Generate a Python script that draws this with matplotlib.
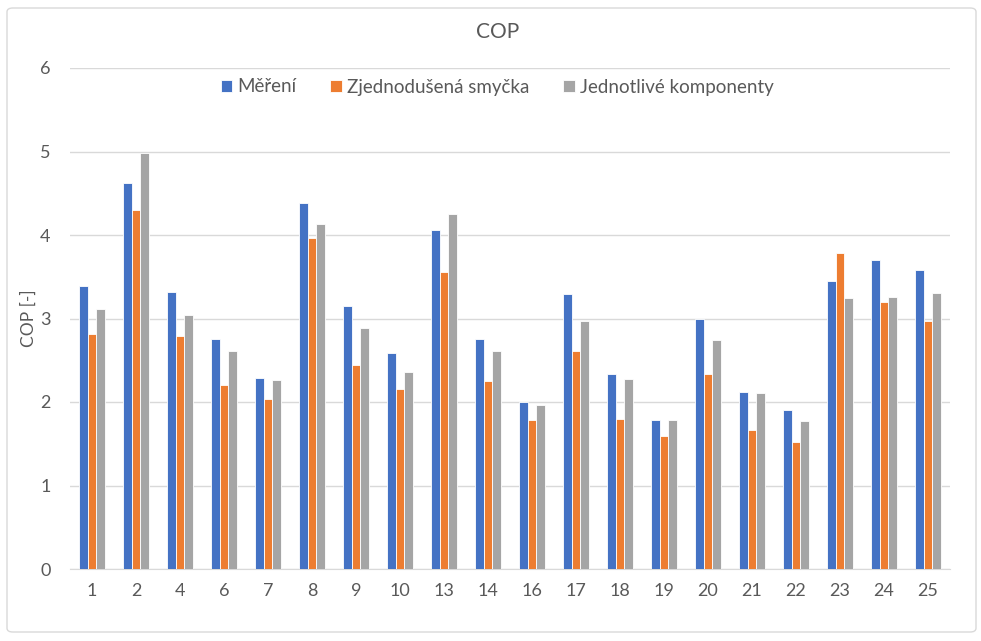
import numpy as np
import matplotlib
matplotlib.use('Agg')
import matplotlib.pyplot as plt
from matplotlib.patches import FancyBboxPatch

plt.rcParams['font.family'] = ['Lato', 'DejaVu Sans']

labels = ['1', '2', '4', '6', '7', '8', '9', '10', '13', '14', '16', '17', '18',
          '19', '20', '21', '22', '23', '24', '25']
mereni = [3.39, 4.62, 3.32, 2.75, 2.29, 4.38, 3.15, 2.59, 4.06, 2.76, 2.00, 3.29,
          2.34, 1.78, 2.99, 2.12, 1.90, 3.45, 3.70, 3.58]
smycka = [2.82, 4.30, 2.79, 2.20, 2.04, 3.97, 2.44, 2.16, 3.56, 2.25, 1.78, 2.61,
          1.80, 1.59, 2.34, 1.67, 1.52, 3.78, 3.20, 2.97]
komponenty = [3.11, 4.98, 3.04, 2.61, 2.26, 4.13, 2.89, 2.36, 4.25, 2.61, 1.97, 2.97,
              2.28, 1.78, 2.74, 2.11, 1.77, 3.25, 3.26, 3.30]

series = [('Měření', mereni, '#4472C4'),
          ('Zjednodušená smyčka', smycka, '#ED7D31'),
          ('Jednotlivé komponenty', komponenty, '#A5A5A5')]

txt = '#595959'
fig = plt.figure(figsize=(9.81, 6.41), dpi=100)
fig.patches.append(FancyBboxPatch((7 / 981, 9 / 641), 969 / 981, 624 / 641,
                                  boxstyle='round,pad=0,rounding_size=0.006',
                                  transform=fig.transFigure, fill=False,
                                  edgecolor='#D9D9D9', linewidth=1))
ax = fig.add_axes([70 / 981, 1 - 569 / 641, 880 / 981, 501 / 641])

x = np.arange(len(labels))
w = 0.2
for i, (name, vals, col) in enumerate(series):
    ax.bar(x + (i - 1) * w, vals, w, color=col, edgecolor='white',
           linewidth=0.6, label=name, zorder=3)

ax.set_xlim(-0.5, len(labels) - 0.5)
ax.set_ylim(0, 6)
ax.set_yticks(range(0, 7))
ax.set_xticks(x)
ax.set_xticklabels(labels)
ax.grid(axis='y', color='#D9D9D9', linewidth=1, zorder=0)
for s in ['top', 'right', 'left']:
    ax.spines[s].set_visible(False)
ax.spines['bottom'].set_color('#D9D9D9')
ax.tick_params(length=0, labelsize=13, colors=txt)
ax.tick_params(axis='y', pad=14)
ax.tick_params(axis='x', pad=10)
ax.set_ylabel('COP [-]', fontsize=12.5, color=txt, labelpad=2)

fig.text(0.507, 1 - 32 / 641, 'COP', ha='center', va='center', fontsize=15, color=txt)
fig.legend(loc='center', bbox_to_anchor=(0.507, 1 - 87 / 641), ncol=3, frameon=False,
           fontsize=13.5, labelcolor=txt, handlelength=0.6, handleheight=0.6,
           handletextpad=0.3, columnspacing=1.8)

fig.savefig('out.png', dpi=100)
